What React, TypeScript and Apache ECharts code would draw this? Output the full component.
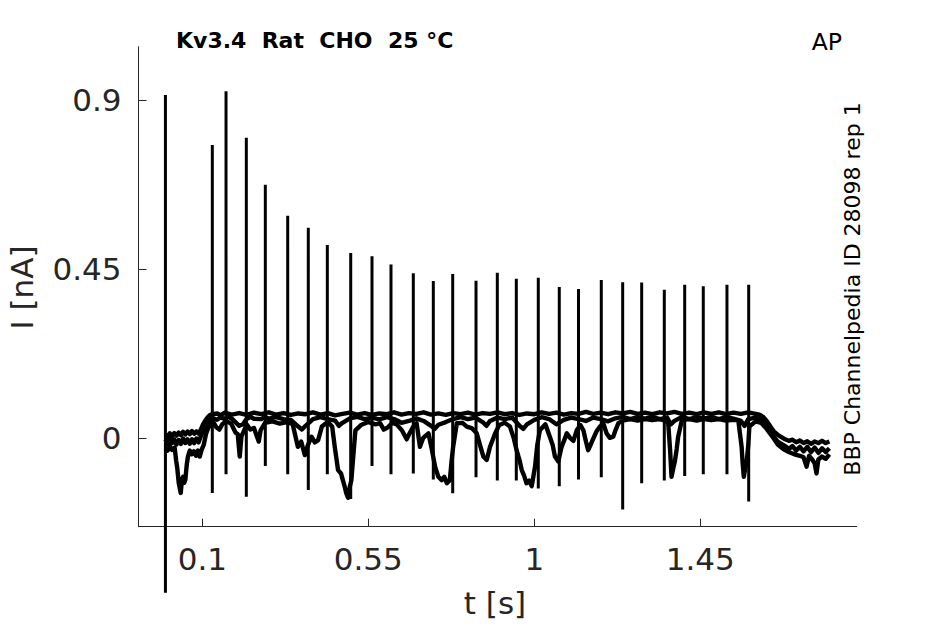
import { useEffect, useRef } from "react";
import * as echarts from "echarts";

// Axis ticks
const xTicks = [0.1, 0.55, 1, 1.45];
const yTicks = [0, 0.45, 0.9];

// AP-clamp evoked current spikes (time s, peak nA, trough nA)
const spikeTimes = [0.1271, 0.1643, 0.2193, 0.2708, 0.3315, 0.3873, 0.4389, 0.5023, 0.56, 0.6115, 0.672, 0.7262, 0.7788, 0.842, 0.8997, 0.9512, 1.0108, 1.0677, 1.1198, 1.1816, 1.2396, 1.2911, 1.3524, 1.4077, 1.4581, 1.5223, 1.5812];
const spikePeaks = [0.781, 0.924, 0.8, 0.675, 0.592, 0.56, 0.514, 0.493, 0.484, 0.462, 0.439, 0.418, 0.437, 0.419, 0.44, 0.424, 0.427, 0.402, 0.397, 0.421, 0.415, 0.414, 0.395, 0.408, 0.404, 0.408, 0.408];
const spikeTroughs = [-0.147, -0.097, -0.157, -0.075, -0.097, -0.139, -0.097, -0.163, -0.075, -0.097, -0.095, -0.111, -0.148, -0.105, -0.114, -0.114, -0.135, -0.129, -0.111, -0.105, -0.191, -0.121, -0.114, -0.102, -0.097, -0.097, -0.17];

// Stimulus onset artefact
const onsetArtifact = [[0, 0.914], [0, -0.413]];

// Sweep 1 (upper edge of the band)
const sweepA = [
  [0, 0.01], [0.006, 0.003], [0.012, 0.012], [0.018, 0.005], [0.024, 0.013], [0.03, 0.006], [0.036, 0.014], [0.042, 0.007], [0.048, 0.016], [0.054, 0.009], [0.06, 0.017], [0.066, 0.01], [0.072, 0.018], [0.078, 0.011], [0.084, 0.017], [0.09, 0.011], [0.096, 0.022], [0.102, 0.036], [0.108, 0.046], [0.114, 0.054], [0.12, 0.06], [0.126, 0.063],
  [0.14, 0.065], [0.15, 0.06], [0.16, 0.067], [0.18, 0.062], [0.2, 0.066], [0.22, 0.061], [0.24, 0.067], [0.26, 0.063], [0.28, 0.068], [0.3, 0.062], [0.32, 0.066], [0.34, 0.061], [0.36, 0.065], [0.38, 0.063], [0.4, 0.068], [0.42, 0.062], [0.44, 0.066], [0.46, 0.06], [0.48, 0.064], [0.5, 0.067], [0.52, 0.062], [0.54, 0.066], [0.56, 0.061], [0.58, 0.065], [0.6, 0.063], [0.62, 0.068], [0.64, 0.062], [0.66, 0.066], [0.68, 0.064], [0.7, 0.068], [0.72, 0.062], [0.74, 0.065], [0.76, 0.061], [0.78, 0.066], [0.8, 0.063], [0.82, 0.067], [0.84, 0.062], [0.86, 0.066], [0.88, 0.064], [0.9, 0.068], [0.92, 0.063], [0.94, 0.066], [0.96, 0.061], [0.98, 0.065], [1.0, 0.063], [1.02, 0.068], [1.04, 0.064], [1.06, 0.067], [1.08, 0.062], [1.1, 0.066], [1.12, 0.064], [1.14, 0.069], [1.16, 0.064], [1.18, 0.067], [1.2, 0.063], [1.22, 0.068], [1.24, 0.065], [1.26, 0.069], [1.28, 0.064], [1.3, 0.067], [1.32, 0.063], [1.34, 0.068], [1.36, 0.065], [1.38, 0.069], [1.4, 0.064], [1.42, 0.067], [1.44, 0.063], [1.46, 0.068], [1.48, 0.064], [1.5, 0.068], [1.52, 0.063], [1.54, 0.067], [1.56, 0.064], [1.58, 0.068], [1.6, 0.064],
  [1.61, 0.062], [1.62, 0.056], [1.63, 0.045], [1.64, 0.03], [1.65, 0.016], [1.66, 0.008], [1.67, 0.002], [1.68, -0.004], [1.69, -0.008], [1.7, -0.005], [1.71, -0.012], [1.72, -0.007], [1.73, -0.014], [1.74, -0.009], [1.75, -0.016], [1.76, -0.01], [1.77, -0.014], [1.78, -0.008], [1.79, -0.014], [1.8, -0.01],
];

// Sweep 2 (middle of the band)
const sweepB = [
  [0, -0.004], [0.006, -0.016], [0.012, -0.002], [0.018, -0.014], [0.024, -0.004], [0.03, -0.018], [0.036, -0.006], [0.042, -0.016], [0.048, -0.002], [0.054, -0.014], [0.06, -0.004], [0.066, -0.016], [0.072, -0.004], [0.078, -0.014], [0.084, -0.002], [0.09, -0.012], [0.096, 0.004], [0.104, 0.022], [0.112, 0.038], [0.12, 0.048], [0.13, 0.052],
  [0.14, 0.048], [0.15, 0.055], [0.16, 0.05], [0.17, 0.056], [0.18, 0.051], [0.2, 0.032], [0.21, 0.036], [0.22, 0.05], [0.23, 0.056], [0.24, 0.051], [0.26, 0.05], [0.27, 0.056], [0.28, 0.051], [0.3, 0.055], [0.32, 0.05], [0.34, 0.048], [0.36, 0.03], [0.37, 0.022], [0.38, 0.032], [0.4, 0.05], [0.42, 0.055], [0.44, 0.05], [0.46, 0.046], [0.47, 0.032], [0.48, 0.04], [0.5, 0.052], [0.52, 0.056], [0.54, 0.05], [0.56, 0.054], [0.58, 0.049], [0.6, 0.055], [0.62, 0.05], [0.64, 0.04], [0.66, 0.045], [0.68, 0.052], [0.7, 0.045], [0.72, 0.032], [0.73, 0.024], [0.74, 0.035], [0.76, 0.042], [0.78, 0.05], [0.8, 0.055], [0.82, 0.05], [0.84, 0.054], [0.86, 0.042], [0.87, 0.032], [0.88, 0.045], [0.9, 0.054], [0.92, 0.05], [0.94, 0.054], [0.96, 0.032], [0.97, 0.024], [0.98, 0.036], [1.0, 0.048], [1.02, 0.055], [1.04, 0.05], [1.06, 0.036], [1.08, 0.048], [1.1, 0.054], [1.12, 0.05], [1.14, 0.045], [1.16, 0.054], [1.18, 0.05], [1.2, 0.044], [1.22, 0.052], [1.24, 0.056], [1.26, 0.05], [1.28, 0.055], [1.3, 0.051], [1.32, 0.056], [1.34, 0.05], [1.36, 0.054], [1.37, 0.036], [1.38, 0.045], [1.4, 0.056], [1.42, 0.05], [1.44, 0.055], [1.46, 0.051], [1.48, 0.056], [1.5, 0.05], [1.52, 0.055], [1.54, 0.051], [1.56, 0.045], [1.57, 0.032], [1.58, 0.05], [1.6, 0.054],
  [1.61, 0.05], [1.62, 0.042], [1.63, 0.03], [1.64, 0.016], [1.65, 0.002], [1.66, -0.01], [1.67, -0.016], [1.68, -0.022], [1.69, -0.03], [1.7, -0.022], [1.71, -0.034], [1.72, -0.024], [1.73, -0.036], [1.74, -0.024], [1.75, -0.038], [1.76, -0.026], [1.77, -0.04], [1.78, -0.028], [1.79, -0.038], [1.8, -0.028],
];

// Sweep 3 (lower edge, with the slow inward dips)
const sweepC = [
  [0, -0.026], [0.006, -0.034], [0.012, -0.022], [0.018, -0.032], [0.025, -0.026], [0.029, -0.06], [0.032, -0.08], [0.036, -0.12], [0.0415, -0.147], [0.045, -0.11], [0.048, -0.104], [0.051, -0.12], [0.054, -0.112], [0.058, -0.07], [0.061, -0.05], [0.066, -0.034], [0.071, -0.044], [0.077, -0.036], [0.083, -0.048], [0.088, -0.034], [0.093, -0.05], [0.098, -0.032], [0.104, -0.018], [0.11, 0.01], [0.116, 0.026], [0.122, 0.036], [0.13, 0.042],
  [0.138, 0.028], [0.146, 0.022], [0.154, 0.036], [0.165, 0.044], [0.178, 0.038], [0.19, 0.014], [0.196, 0.01], [0.2015, -0.05], [0.206, 0.004], [0.212, 0.016], [0.22, 0.036], [0.23, 0.022], [0.24, 0.026], [0.253, -0.01], [0.258, 0.02], [0.27, 0.04], [0.29, 0.044], [0.31, 0.038], [0.33, 0.042], [0.345, 0.036], [0.359, -0.024], [0.368, -0.01], [0.378, -0.046], [0.386, -0.02], [0.396, 0.003], [0.405, -0.012], [0.414, -0.006], [0.424, 0.03], [0.44, 0.042], [0.452, 0.03], [0.459, -0.024], [0.468, -0.086], [0.476, -0.095], [0.481, -0.113], [0.486, -0.13], [0.49, -0.147], [0.495, -0.16], [0.5, -0.13], [0.504, -0.113], [0.51, -0.04], [0.515, 0.02], [0.53, 0.034], [0.55, 0.042], [0.57, 0.036], [0.582, 0.039], [0.592, 0.022], [0.603, 0.028], [0.615, 0.04], [0.627, 0.036], [0.641, 0.02], [0.654, -0.004], [0.662, 0.012], [0.672, 0.03], [0.681, 0.039], [0.69, -0.024], [0.699, 0.0], [0.713, 0.012], [0.722, -0.03], [0.731, -0.077], [0.74, -0.104], [0.749, -0.113], [0.756, -0.104], [0.763, -0.121], [0.771, -0.113], [0.776, -0.06], [0.78, -0.024], [0.79, 0.039], [0.805, 0.04], [0.817, 0.03], [0.83, 0.026], [0.844, 0.012], [0.853, -0.02], [0.862, -0.05], [0.871, -0.059], [0.88, -0.024], [0.894, 0.012], [0.905, 0.034], [0.92, 0.04], [0.934, 0.03], [0.944, 0.0], [0.952, -0.033], [0.96, -0.06], [0.966, -0.086], [0.972, -0.1], [0.979, -0.121], [0.986, -0.114], [0.993, -0.129], [1.002, -0.077], [1.008, -0.02], [1.015, 0.02], [1.03, 0.036], [1.043, 0.0], [1.05, -0.02], [1.056, -0.05], [1.065, -0.063], [1.074, -0.024], [1.082, -0.004], [1.088, 0.012], [1.097, 0.0], [1.106, -0.008], [1.115, 0.02], [1.125, 0.034], [1.133, 0.02], [1.14, -0.01], [1.146, -0.033], [1.152, -0.02], [1.158, -0.006], [1.168, 0.016], [1.178, 0.03], [1.187, 0.039], [1.196, 0.012], [1.205, 0.0], [1.214, 0.003], [1.22, 0.02], [1.228, 0.039], [1.24, 0.046], [1.26, 0.05], [1.28, 0.046], [1.3, 0.05], [1.32, 0.047], [1.34, 0.05], [1.355, 0.046], [1.363, 0.039], [1.368, -0.03], [1.372, -0.104], [1.377, -0.08], [1.381, -0.063], [1.386, -0.03], [1.39, 0.003], [1.4, 0.047], [1.42, 0.05], [1.44, 0.046], [1.46, 0.05], [1.48, 0.047], [1.5, 0.05], [1.52, 0.046], [1.54, 0.048], [1.553, 0.047], [1.562, -0.024], [1.565, -0.07], [1.568, -0.104], [1.572, -0.08], [1.576, -0.063], [1.58, -0.02], [1.583, 0.03], [1.6, 0.044],
  [1.615, 0.04], [1.63, 0.024], [1.645, 0.004], [1.66, -0.018], [1.675, -0.03], [1.69, -0.038], [1.705, -0.044], [1.72, -0.048], [1.73, -0.052], [1.738, -0.077], [1.745, -0.048], [1.752, -0.056], [1.76, -0.068], [1.765, -0.095], [1.77, -0.058], [1.78, -0.05], [1.79, -0.056], [1.8, -0.044],
];

const FONT = "DejaVu Sans";
const AXIS_COLOR = "#262626";

export default function App() {
  const ref = useRef<HTMLDivElement>(null);

  useEffect(() => {
    const chart = echarts.init(ref.current!, null, { renderer: "svg" });

    const spikeData: any[] = [];
    spikeTimes.forEach((t, i) => {
      spikeData.push([t, spikePeaks[i]], [t, spikeTroughs[i]], [t, "-"]);
    });

    const sweepSeries = [sweepA, sweepB, sweepC].map((d, i) => ({
      type: "line",
      name: "sweep" + (i + 1),
      data: d,
      symbol: "none",
      silent: true,
      lineStyle: { color: "#000", width: 4.4, join: "round" },
      z: 2,
    }));

    chart.setOption({
      animation: false,
      backgroundColor: "#fff",
      grid: { left: 138.5, right: 88.3, top: 46.7, bottom: 97.3, containLabel: false },
      xAxis: {
        type: "value",
        min: -0.073,
        max: 1.874,
        axisLine: { onZero: false, lineStyle: { color: AXIS_COLOR, width: 1 } },
        axisTick: { inside: true, length: 8, customValues: xTicks, lineStyle: { color: AXIS_COLOR } },
        axisLabel: { customValues: xTicks, fontSize: 31, fontFamily: FONT, color: AXIS_COLOR, margin: 17 },
        splitLine: { show: false },
      },
      yAxis: {
        type: "value",
        min: -0.237,
        max: 1.043,
        axisLine: { show: true, onZero: false, lineStyle: { color: AXIS_COLOR, width: 1 } },
        axisTick: { show: true, inside: true, length: 8, customValues: yTicks, lineStyle: { color: AXIS_COLOR } },
        axisLabel: { customValues: yTicks, fontSize: 31, fontFamily: FONT, color: AXIS_COLOR, margin: 17 },
        splitLine: { show: false },
      },
      series: [
        ...sweepSeries,
        {
          type: "line",
          name: "spikes",
          data: spikeData,
          symbol: "none",
          silent: true,
          connectNulls: false,
          lineStyle: { color: "#000", width: 3 },
          z: 3,
        },
        {
          type: "line",
          name: "onset",
          data: onsetArtifact,
          symbol: "none",
          silent: true,
          clip: false,
          lineStyle: { color: "#000", width: 3 },
          z: 3,
        },
      ],
      graphic: [
        {
          type: "text",
          x: 176,
          y: 40,
          style: { text: "Kv3.4  Rat  CHO  25 °C", fontSize: 22, fontWeight: "bold", fontFamily: FONT, fill: "#000", align: "left", verticalAlign: "middle" },
        },
        {
          type: "text",
          x: 811.7,
          y: 42,
          style: { text: "AP", fontSize: 23.5, fontFamily: FONT, fill: "#000", align: "left", verticalAlign: "middle" },
        },
        {
          type: "text",
          x: 852,
          y: 289,
          rotation: Math.PI / 2,
          style: { text: "BBP Channelpedia ID 28098 rep 1", fontSize: 22, fontFamily: FONT, fill: "#000", align: "center", verticalAlign: "middle" },
        },
        {
          type: "text",
          x: 22,
          y: 287.5,
          rotation: Math.PI / 2,
          style: { text: "I [nA]", fontSize: 31, fontFamily: FONT, fill: AXIS_COLOR, align: "center", verticalAlign: "middle" },
        },
        {
          type: "text",
          x: 495,
          y: 603,
          style: { text: "t [s]", fontSize: 31, fontFamily: FONT, fill: AXIS_COLOR, align: "center", verticalAlign: "middle" },
        },
      ],
    });

    return () => chart.dispose();
  }, []);

  return (
    <div
      ref={ref}
      style={{ position: "fixed", left: 0, top: 0, width: 945, height: 624, background: "#fff" }}
    />
  );
}
